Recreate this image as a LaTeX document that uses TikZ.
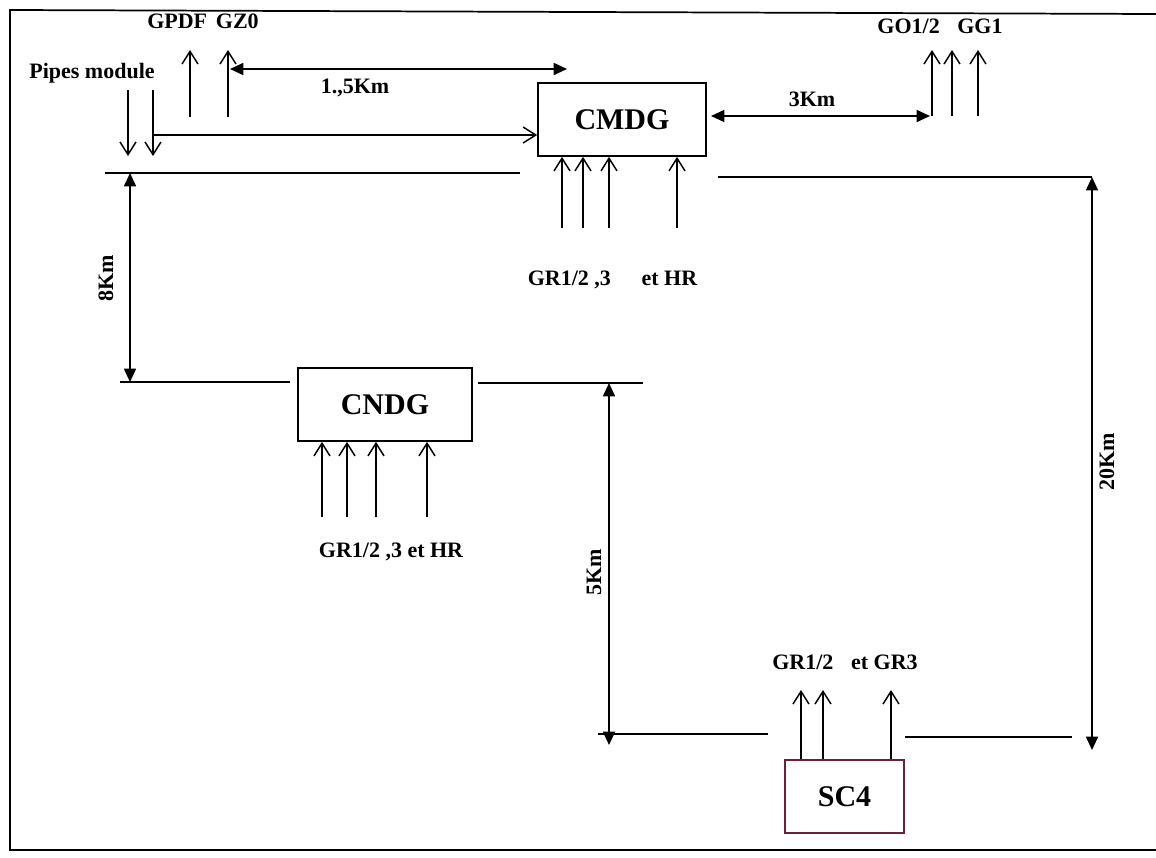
\documentclass[tikz,border=0pt]{standalone}
\usepackage{fontspec}
\setmainfont{Liberation Serif}
\usetikzlibrary{arrows.meta}
\definecolor{boxred}{RGB}{110,30,55}
\begin{document}
\begin{tikzpicture}[x=0.75pt,y=-0.75pt,
  lw/.style={line width=1.3pt},
  feed/.style={lw,-{Straight Barb[length=9.5pt,width=12pt,line width=1.1pt]}},
  dimarrow/.style={lw,{Triangle[length=10pt,width=9pt]}-{Triangle[length=10pt,width=9pt]}},
  unitbox/.style={draw,lw,inner sep=0pt,minimum height=54.75pt,font=\fontsize{22.5}{24}\selectfont\bfseries},
  lbl/.style={inner sep=0pt,font=\fontsize{16.5}{18}\selectfont\bfseries}]
\useasboundingbox (0,0) rectangle (1156,857);
% frame
\coordinate (fTR) at (1156,14);
\coordinate (fTL) at (10,10);
\coordinate (fBL) at (10,850);
\coordinate (fBR) at (1156,850);
\draw[lw] (fTR) -- (fTL) -- (fBL) -- (fBR);

% boxes
\node[unitbox,minimum width=126pt] (cmdg) at (622,119.5) {CMDG};
\node[unitbox,minimum width=130.5pt] (cndg) at (385,404.5) {CNDG};
\node[unitbox,minimum width=89.25pt,draw=boxred] (sc4) at (844.5,796.5) {SC4};

% top-left labels
\node[lbl] (lgp) at (203,21) {GPDF\hspace{0.4em}GZ0};
\node[lbl] (lpipes) at (92,73) {Pipes module};
\coordinate (gpB) at (190,117); \coordinate (gpT) at (190,50);
\coordinate (gzB) at (228,117); \coordinate (gzT) at (228,50);
\draw[feed] (gpB) -- (gpT);
\draw[feed] (gzB) -- (gzT);
\coordinate (p1T) at (128,90); \coordinate (p1B) at (128,156);
\coordinate (p2T) at (153,90); \coordinate (p2B) at (153,156);
\draw[feed] (p1T) -- (p1B);
\draw[feed] (p2T) -- (p2B);
\coordinate (pj) at (153,135);
\draw[feed] (pj) -- (pj -| cmdg.west);

% 1.,5Km
\coordinate (d1L) at (230,69); \coordinate (d1R) at (567,69);
\draw[dimarrow] (d1L) -- (d1R);
\node[lbl] (l15) at (355,88) {1.,5Km};

% 3Km
\coordinate (d3L) at (711,116); \coordinate (d3R) at (930,116);
\draw[dimarrow] (d3L) -- (d3R);
\node[lbl] (l3) at (812,99) {3Km};

% GO1/2 GG1
\foreach \x [count=\i] in {932,952,978} {
  \coordinate (goB\i) at (\x,116); \coordinate (goT\i) at (\x,50);
  \draw[feed] (goB\i) -- (goT\i);
}
\node[lbl] (lgo) at (940,26) {GO1/2\hspace{0.8em}GG1};

% line under CMDG level (left) and 8Km
\coordinate (la1) at (105,173); \coordinate (la2) at (520,173);
\draw[lw] (la1) -- (la2);
\coordinate (d8T) at (130,173); \coordinate (d8B) at (130,382);
\draw[dimarrow] (d8T) -- (d8B);
\node[lbl,rotate=90] (l8) at (106,278) {8Km};

% CMDG inputs
\foreach \x [count=\i] in {562,583,609,677} {
  \coordinate (ma\i) at (\x,228);
  \draw[feed] (ma\i) -- (ma\i |- cmdg.south);
}
\node[lbl] (lgr1) at (612.5,280) {GR1/2 ,3\hspace{1.4em}et HR};

% right line and 20Km
\coordinate (lr1) at (718,177); \coordinate (lr2) at (1092,177);
\draw[lw] (lr1) -- (lr2);
\coordinate (d20T) at (1092,177); \coordinate (d20B) at (1092,750);
\draw[dimarrow] (d20T) -- (d20B);
\node[lbl,rotate=90] (l20) at (1107,462) {20Km};

% CNDG lines
\coordinate (lc1) at (120,382); \coordinate (lc2) at (290,382);
\draw[lw] (lc1) -- (lc2);
\coordinate (lc3) at (478,383); \coordinate (lc4) at (643,383);
\draw[lw] (lc3) -- (lc4);
\foreach \x [count=\i] in {322,347,376,427} {
  \coordinate (na\i) at (\x,517);
  \draw[feed] (na\i) -- (na\i |- cndg.south);
}
\node[lbl] (lgr2) at (391,552) {GR1/2 ,3 et HR};

% 5Km
\coordinate (d5T) at (609,383); \coordinate (d5B) at (609,745);
\draw[dimarrow] (d5T) -- (d5B);
\node[lbl,rotate=90] (l5) at (594,572) {5Km};

% SC4 lines and outputs
\coordinate (ls1) at (598,734); \coordinate (ls2) at (768,734);
\draw[lw] (ls1) -- (ls2);
\coordinate (ls3) at (905,737); \coordinate (ls4) at (1072,737);
\draw[lw] (ls3) -- (ls4);
\foreach \x [count=\i] in {801,823,891} {
  \coordinate (sa\i) at (\x,690);
  \draw[feed] (sa\i |- sc4.north) -- (sa\i);
}
\node[lbl] (lgr3) at (845,662) {GR1/2\hspace{0.8em}et GR3};
\end{tikzpicture}
\end{document}
